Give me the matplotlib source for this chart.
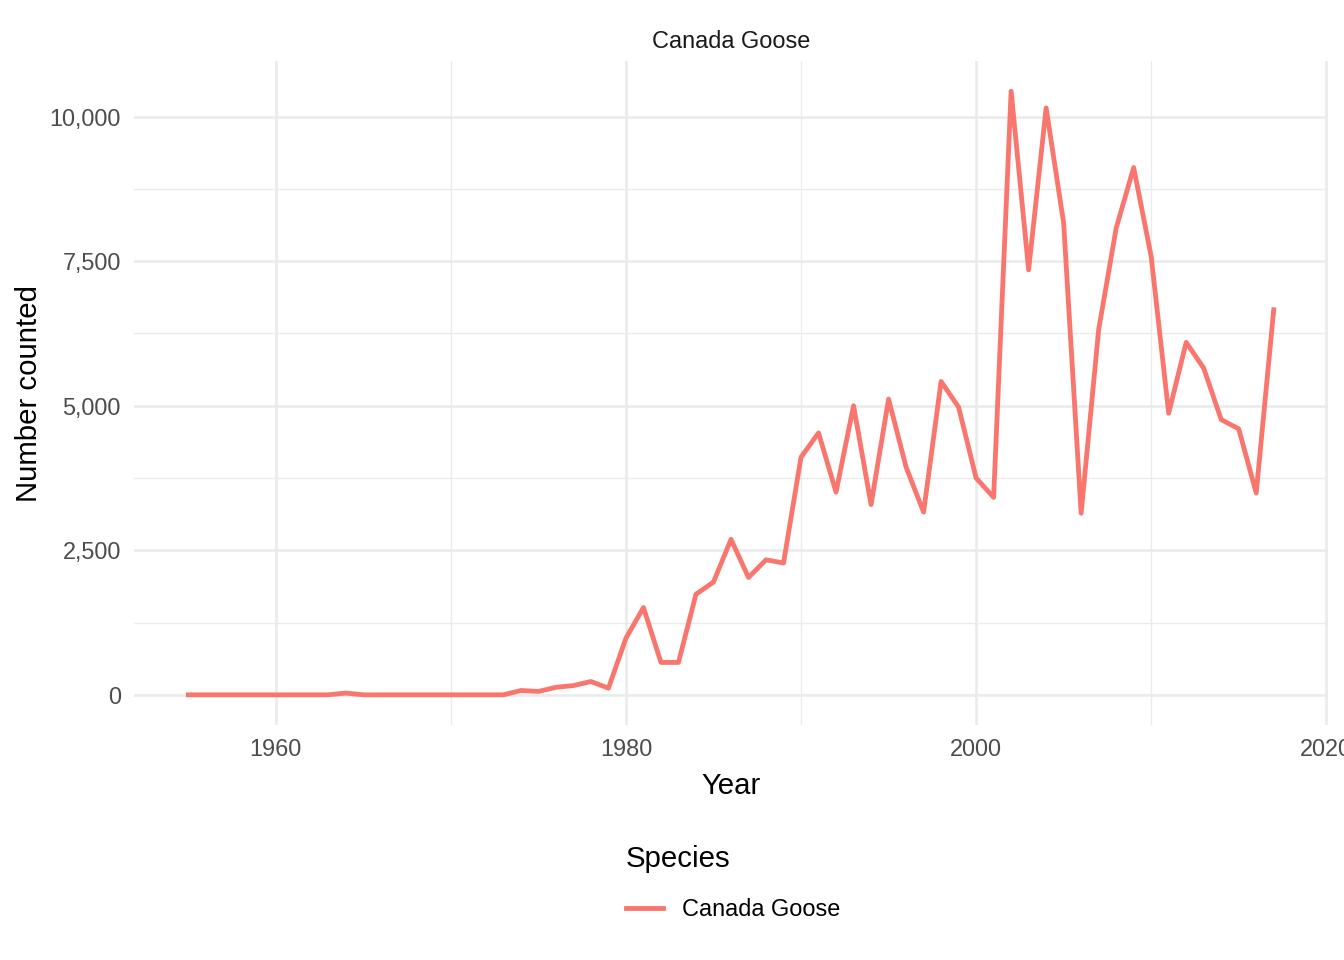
import matplotlib
matplotlib.use("Agg")
import matplotlib.pyplot as plt
from matplotlib.ticker import FuncFormatter, MultipleLocator
from matplotlib.lines import Line2D

years = list(range(1955, 2018))
counts = [0, 0, 0, 0, 0, 0, 0, 0, 0, 30, 0, 0, 0, 0, 0, 0, 0, 0,
          0, 75, 58, 130, 160, 230, 115, 980, 1510, 560, 560, 1740, 1950,
          2690, 2030, 2335, 2280, 4110, 4530, 3505, 5000, 3290, 5115, 3940,
          3160, 5420, 4975, 3750, 3415, 10440, 7350, 10150, 8160, 3140,
          6315, 8070, 9120, 7580, 4870, 6095, 5650, 4760, 4600, 3490, 6660]
species = "Canada Goose"
x_ticks = [1960, 1980, 2000, 2020]
y_ticks = [0, 2500, 5000, 7500, 10000]

plt.rcParams['font.family'] = ['Liberation Sans', 'DejaVu Sans']
W, H = 1344, 960
fig = plt.figure(figsize=(7, 5), dpi=192)
L, R, T, B = 134, 1328, 61, 725
ax = fig.add_axes([L / W, 1 - B / H, (R - L) / W, (B - T) / H])

col = '#F8766D'
ax.plot(years, counts, color=col, lw=1.8, solid_joinstyle='round', zorder=3)

xr = max(years) - min(years)
ax.set_xlim(min(years) - 0.05 * xr, max(years) + 0.05 * xr)
yr = max(counts) - min(counts)
ax.set_ylim(min(counts) - 0.05 * yr, max(counts) + 0.05 * yr)

ax.set_xticks(x_ticks)
ax.set_yticks(y_ticks)
ax.xaxis.set_minor_locator(MultipleLocator(10))
ax.yaxis.set_minor_locator(MultipleLocator(1250))
ax.yaxis.set_major_formatter(FuncFormatter(lambda v, p: f"{int(v):,}"))
ax.grid(which='major', color='#EBEBEB', lw=1.0, zorder=0)
ax.grid(which='minor', color='#EBEBEB', lw=0.5, zorder=0)
ax.set_axisbelow(True)
for s in ax.spines.values():
    s.set_visible(False)
ax.tick_params(which='both', length=0, labelsize=8.8, labelcolor='#4D4D4D', pad=4.9)
for lab in ax.get_xticklabels():
    lab.set_clip_on(False)

ax.set_xlabel("Year", fontsize=11, color='black', labelpad=4)
ax.set_ylabel("Number counted", fontsize=11, color='black', labelpad=2.6)

fig.text((L + R) / 2 / W, 1 - 41 / H, species, ha='center', va='center',
         fontsize=8.8, color='#1A1A1A')

handle = Line2D([], [], color=col, lw=1.8)
leg = fig.legend([handle], [species], loc='center', bbox_to_anchor=(733 / W, 1 - 883 / H),
                 title='Species', alignment='left', frameon=False, fontsize=8.8,
                 title_fontsize=11, handlelength=1.6, handletextpad=0.8,
                 labelspacing=1.05)

fig.savefig("out.png", dpi=192)
